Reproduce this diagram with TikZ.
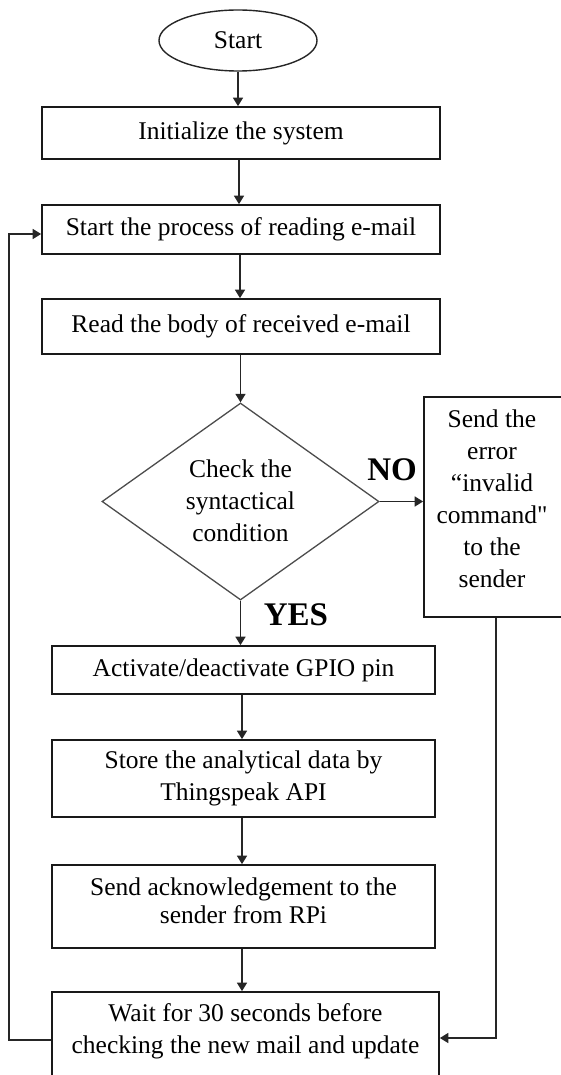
\documentclass[tikz,border=0pt]{standalone}
\usepackage{fontspec}
\setmainfont{Liberation Serif}
\newfontfamily\straightq[Ligatures=ResetAll]{Liberation Serif}
\usetikzlibrary{shapes.geometric,arrows.meta}
\begin{document}
\begin{tikzpicture}[x=1pt,y=-1pt,
  every node/.style={font=\fontsize{25.5}{32}\selectfont, inner sep=0pt, align=center, text=black},
  procbox/.style={draw=black!90, line width=1.7pt, rectangle},
  conn/.style={draw=black!85, line width=1.6pt, -{Triangle[length=8.5pt,width=10pt]}},
  lbl/.style={font=\fontsize{33}{36}\selectfont\bfseries}]
\useasboundingbox (0,0) rectangle (561,1075);
% nodes
\node[draw=black!85, ellipse, line width=1.4pt, minimum width=158, minimum height=61] (start) at (238,40.5) {Start};
\node[procbox, minimum width=398, minimum height=52] (b1) at (241,133) {Initialize the system};
\node[procbox, minimum width=398, minimum height=49] (b2) at (241,229.5) {Start the process of reading e-mail};
\node[procbox, minimum width=398, minimum height=55] (b3) at (241,326.5) {Read the body of received e-mail};
\node[draw=black!70, diamond, line width=1.3pt, minimum width=277, minimum height=197] (dia) at (240.5,501.5) {};
\node (diatext) at (240.5,501) {Check the\\syntactical\\condition};
\node[procbox, minimum width=138, minimum height=220] (err) at (493,507) {};
\node (errtext) at (492,499) {Send the\\error\\“invalid\\command{\straightq"}\\to the\\sender};
\node[procbox, minimum width=383, minimum height=48] (b4) at (243.5,670) {Activate/deactivate GPIO pin};
\node[procbox, minimum width=383, minimum height=77] (b5) at (243.5,778.5) {Store the analytical data by\\Thingspeak API};
\node[procbox, minimum width=383, minimum height=83] (b6) at (243.5,906.5) {};
\node (b6text) at (243.5,901) {Send acknowledgement to the\\[-4pt]sender from RPi};
\node[procbox, minimum width=387, minimum height=88] (b7) at (245.5,1036) {};
\node (b7text) at (245.5,1031) {Wait for 30 seconds before\\checking the new mail and update};
\node[lbl] (no) at (392,470) {NO};
\node[lbl] (yes) at (296,615) {YES};
% connectors
\draw[conn] (start.south) -- (start.south |- b1.north);
\draw[conn] (b1.south -| 239,0) -- (b2.north -| 239,0);
\draw[conn] (b2.south -| 240,0) -- (b3.north -| 240,0);
\draw[conn] (b3.south -| dia.north) -- (dia.north);
\draw[conn] (dia.east) -- (err.west |- dia.east);
\draw[conn] (dia.south) -- (dia.south |- b4.north);
\draw[conn] (b4.south -| 242,0) -- (b5.north -| 242,0);
\draw[conn] (b5.south -| 242,0) -- (b6.north -| 242,0);
\draw[conn] (b6.south -| 242,0) -- (b7.north -| 242,0);
\coordinate (rb) at (496,1038);
\draw[conn] (err.south -| rb) -- (rb) -- (b7.east |- rb);
\coordinate (lb) at (9,1040);
\coordinate (lt) at (9,234);
\draw[conn] (b7.west |- lb) -- (lb) -- (lt) -- (b2.west |- lt);
\end{tikzpicture}
\end{document}
